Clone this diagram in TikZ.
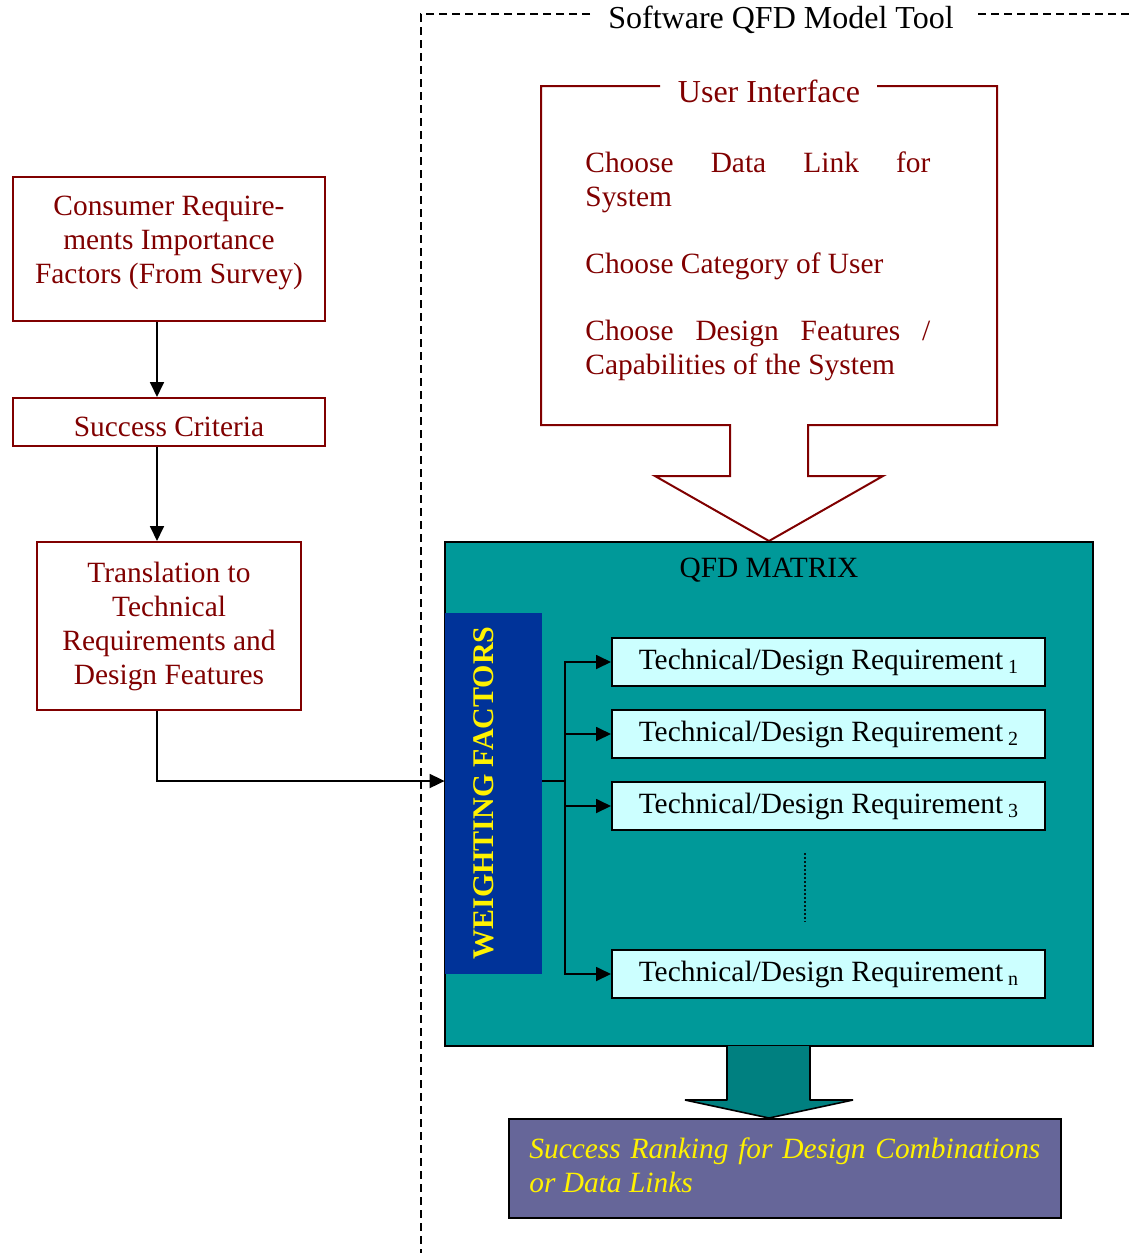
\documentclass[tikz,border=0pt]{standalone}
\usepackage{fontspec}
\setmainfont{Liberation Serif}
\usepackage{tikz}
\usetikzlibrary{arrows.meta}

\definecolor{darkred}{RGB}{128,0,0}
\definecolor{qfdteal}{RGB}{0,153,153}
\definecolor{wfblue}{RGB}{0,51,153}
\definecolor{reqcyan}{RGB}{204,255,255}
\definecolor{arrowteal}{RGB}{0,128,128}
\definecolor{rankpurple}{RGB}{102,102,153}

\newcommand{\reqsub}[1]{\,\raisebox{-0.3ex}{\fontsize{10}{10}\selectfont #1}}
\hyphenpenalty=10000
\exhyphenpenalty=10000

\begin{document}
\begin{tikzpicture}[x=0.5pt, y=-0.5pt,
			every node/.style={font=\fontsize{14.7}{17}\selectfont, inner sep=0pt},
			redbox/.style={draw=darkred, line width=1pt, text=darkred, align=center},
			reqbox/.style={draw=black, line width=1pt, fill=reqcyan, minimum width=216.5pt, minimum height=24pt},
			uitext/.style={anchor=base west, text=darkred, text width=172.5pt, align=justify},
			heading/.style={font=\fontsize{16}{17}\selectfont},
			link/.style={line width=0.9pt, -{Triangle[length=7.5pt,width=7pt]}}]
	\useasboundingbox (0,0) rectangle (1131,1253);
	% tool frame
	\draw[line width=0.7pt, dash pattern=on 4pt off 2.5pt] (590,14) -- (421,14) -- (421,1253);
	\draw[line width=0.7pt, dash pattern=on 4pt off 2.5pt] (978,14) -- (1131,14);
	\node[heading] (tool) at (781,20) {Software QFD Model Tool};

	% left column
	\node[redbox, minimum width=156pt, minimum height=72pt, text depth=9pt] (cons) at (169,249)
		{Consumer Require-\\ments Importance\\Factors (From Survey)};
	\node[redbox, minimum width=156pt, minimum height=24pt, text height=14pt, text depth=0pt] (crit) at (169,422) {Success Criteria};
	\node[redbox, minimum width=132pt, minimum height=84pt] (trans) at (169,626)
		{Translation to\\Technical\\Requirements and\\Design Features};

	% user interface
	\draw[darkred, line width=1pt] (660,86) -- (541,86) -- (541,425) -- (730,425) -- (730,476)
		-- (655,476) -- (769,541) -- (883,476) -- (808,476) -- (808,425) -- (997,425)
		-- (997,86) -- (877,86);
	\node[heading, text=darkred] (ui) at (769,91) {User Interface};
	\node[uitext] (ui1) at (585,172) {Choose Data Link for\linebreak System};
	\node[uitext] (ui2) at (585,273) {Choose Category of User};
	\node[uitext] (ui3) at (585,340) {Choose Design Features /\linebreak Capabilities of the System};

	% qfd matrix
	\node[draw=black, line width=1pt, fill=qfdteal, minimum width=324pt, minimum height=252pt] (qfd) at (769,794) {};
	\node (qfdtitle) at (769,570) {QFD MATRIX};
	\node[fill=wfblue, minimum width=48.5pt, minimum height=180.5pt] (weight) at (493.5,793.5) {};
	\node[rotate=90, text=yellow, font=\fontsize{15}{15}\selectfont\bfseries] (wtext) at (484,793) {WEIGHTING FACTORS};
	\node[reqbox] (req1) at (828.5,662) {Technical/Design Requirement\reqsub{1}};
	\node[reqbox] (req2) at (828.5,734) {Technical/Design Requirement\reqsub{2}};
	\node[reqbox] (req3) at (828.5,806) {Technical/Design Requirement\reqsub{3}};
	\node[reqbox] (reqn) at (828.5,974) {Technical/Design Requirement\reqsub{n}};
	\coordinate (dot1) at (805,853);
	\coordinate (dot2) at (805,922);
	\draw[line width=1pt, black!85!qfdteal, dash pattern=on 1pt off 1pt] (dot1) -- (dot2);

	\coordinate (bus) at (565,781);
	\draw[line width=0.9pt] (weight.east |- bus) -- (bus);
	\foreach \r in {req1,req2,req3,reqn}
		\draw[link] (bus) |- (\r.west);

	% flow on the left
	\coordinate (flow) at (157,0);
	\draw[link] (cons.south -| flow) -- (crit.north -| flow);
	\draw[link] (crit.south -| flow) -- (trans.north -| flow);
	\draw[link] (trans.south -| flow) |- (weight.west |- bus);

	% result
	\draw[line width=0.8pt, line join=bevel, fill=arrowteal] (727,1046) -- (727,1100) -- (685,1100) -- (769,1118)
		-- (853,1100) -- (810,1100) -- (810,1046);
	\node[draw=black, line width=1pt, fill=rankpurple, minimum width=276pt, minimum height=49.5pt] (rank) at (785,1168.5) {};
	\node[anchor=base west, text=yellow, text width=255.5pt, align=justify, font=\fontsize{14.7}{17}\selectfont\itshape] (ranktext) at (529,1158)
		{Success Ranking for Design Combinations\linebreak or Data Links};
\end{tikzpicture}
\end{document}
